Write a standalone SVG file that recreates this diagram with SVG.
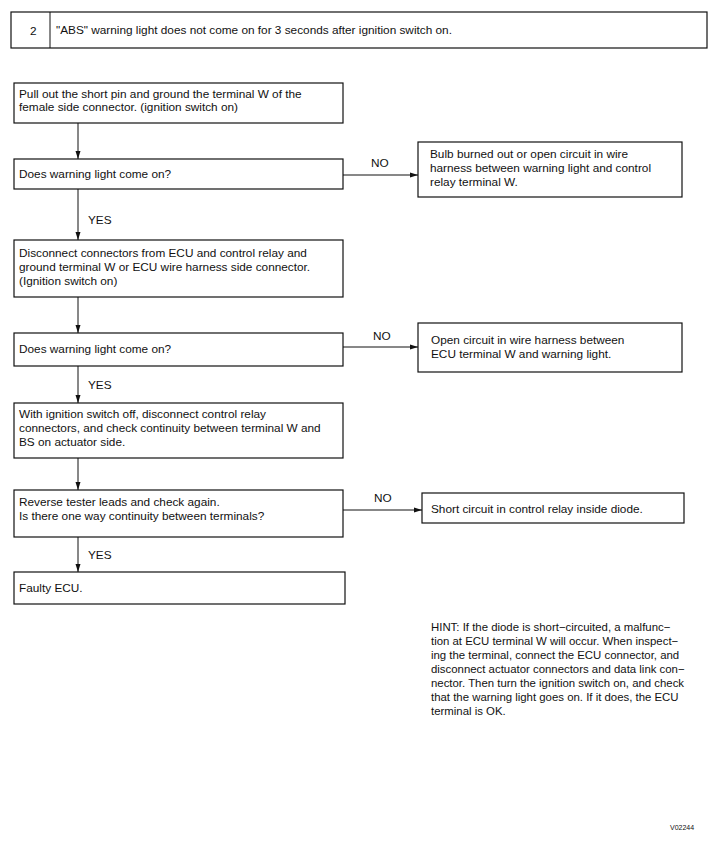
<svg xmlns="http://www.w3.org/2000/svg" width="717" height="848" viewBox="0 0 717 848">
<style>
text{font-family:"Liberation Sans",Arial,sans-serif;font-size:11.8px;fill:#111}
.box{fill:#fff;stroke:#111;stroke-width:1.2}
.ln{fill:none;stroke:#111;stroke-width:1}
.hint{font-size:11.4px}
.sm{font-size:7px}
</style>
<defs>
<marker id="ah" markerWidth="8" markerHeight="6" refX="8" refY="3" orient="auto" markerUnits="userSpaceOnUse">
<path d="M0,0.5 L8,3 L0,5.5 Z" fill="#111"/>
</marker>
</defs>
<rect width="717" height="848" fill="#fff"/>
<g id="header">
<rect class="box" x="11" y="12" width="696" height="36"/>
<line class="ln" x1="50" y1="12" x2="50" y2="48"/>
<text x="30" y="35">2</text>
<text x="56" y="34">"ABS" warning light does not come on for 3 seconds after ignition switch on.</text>
</g>
<g id="connectors">
<line class="ln" x1="78" y1="123" x2="78" y2="159" marker-end="url(#ah)"/>
<line class="ln" x1="343" y1="175" x2="418" y2="175" marker-end="url(#ah)"/>
<line class="ln" x1="78" y1="189" x2="78" y2="240" marker-end="url(#ah)"/>
<line class="ln" x1="78" y1="297" x2="78" y2="333" marker-end="url(#ah)"/>
<line class="ln" x1="343" y1="347" x2="418" y2="347" marker-end="url(#ah)"/>
<line class="ln" x1="78" y1="366" x2="78" y2="403" marker-end="url(#ah)"/>
<line class="ln" x1="78" y1="458" x2="78" y2="490" marker-end="url(#ah)"/>
<line class="ln" x1="343" y1="510" x2="422" y2="510" marker-end="url(#ah)"/>
<line class="ln" x1="78" y1="537" x2="78" y2="572" marker-end="url(#ah)"/>
<text x="371" y="167">NO</text>
<text x="88" y="224">YES</text>
<text x="373" y="340">NO</text>
<text x="88" y="389">YES</text>
<text x="374" y="502">NO</text>
<text x="88" y="559">YES</text>
</g>
<g id="n1">
<rect class="box" x="14" y="83" width="329" height="40"/>
<text x="19" y="98">Pull out the short pin and ground the terminal W of the</text>
<text x="19" y="111">female side connector. (ignition switch on)</text>
</g>
<g id="n2">
<rect class="box" x="14" y="159" width="329" height="30"/>
<text x="19" y="178">Does warning light come on?</text>
</g>
<g id="n3">
<rect class="box" x="418" y="142" width="264" height="55"/>
<text x="430" y="158">Bulb burned out or open circuit in wire</text>
<text x="430" y="172">harness between warning light and control</text>
<text x="430" y="186">relay terminal W.</text>
</g>
<g id="n4">
<rect class="box" x="14" y="240" width="329" height="57"/>
<text x="19" y="257">Disconnect connectors from ECU and control relay and</text>
<text x="19" y="271">ground terminal W or ECU wire harness side connector.</text>
<text x="19" y="285">(Ignition switch on)</text>
</g>
<g id="n5">
<rect class="box" x="14" y="333" width="329" height="33"/>
<text x="19" y="353">Does warning light come on?</text>
</g>
<g id="n6">
<rect class="box" x="418" y="323" width="264" height="49"/>
<text x="431" y="344">Open circuit in wire harness between</text>
<text x="431" y="358">ECU terminal W and warning light.</text>
</g>
<g id="n7">
<rect class="box" x="14" y="403" width="329" height="55"/>
<text x="19" y="418">With ignition switch off, disconnect control relay</text>
<text x="19" y="432">connectors, and check continuity between terminal W and</text>
<text x="19" y="446">BS on actuator side.</text>
</g>
<g id="n8">
<rect class="box" x="14" y="490" width="329" height="47"/>
<text x="19" y="506">Reverse tester leads and check again.</text>
<text x="19" y="520">Is there one way continuity between terminals?</text>
</g>
<g id="n9">
<rect class="box" x="422" y="493" width="262" height="30"/>
<text x="431" y="513">Short circuit in control relay inside diode.</text>
</g>
<g id="n10">
<rect class="box" x="14" y="572" width="331" height="32"/>
<text x="19" y="592">Faulty ECU.</text>
</g>
<g id="hint" class="hint">
<text class="hint" x="431" y="631">HINT: If the diode is short−circuited, a malfunc−</text>
<text class="hint" x="431" y="645">tion at ECU terminal W will occur. When inspect−</text>
<text class="hint" x="431" y="659">ing the terminal, connect the ECU connector, and</text>
<text class="hint" x="431" y="673">disconnect actuator connectors and data link con−</text>
<text class="hint" x="431" y="687">nector. Then turn the ignition switch on, and check</text>
<text class="hint" x="431" y="701">that the warning light goes on. If it does, the ECU</text>
<text class="hint" x="431" y="715">terminal is OK.</text>
</g>
<text class="sm" x="670" y="830">V02244</text>
</svg>
